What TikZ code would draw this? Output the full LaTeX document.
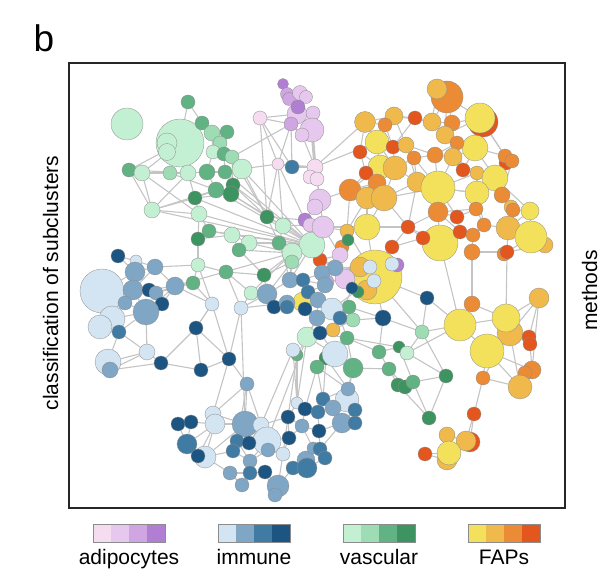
\documentclass[tikz,border=0pt]{standalone}
\usepackage{fontspec}
\setmainfont{Liberation Sans}
\usepackage{xcolor}
\usepackage{tikz}
\usetikzlibrary{backgrounds}
\definecolor{adpA}{HTML}{F5DCF1}
\definecolor{adpB}{HTML}{E6C8EE}
\definecolor{adpC}{HTML}{CFA5E2}
\definecolor{adpD}{HTML}{B07FD4}
\definecolor{immA}{HTML}{D3E4F3}
\definecolor{immB}{HTML}{7FA6C4}
\definecolor{immC}{HTML}{407BA3}
\definecolor{immD}{HTML}{1C5581}
\definecolor{vasA}{HTML}{C3F0D3}
\definecolor{vasB}{HTML}{9EDCB3}
\definecolor{vasC}{HTML}{62B383}
\definecolor{vasD}{HTML}{3D9460}
\definecolor{fapA}{HTML}{F4E15B}
\definecolor{fapB}{HTML}{F0B94B}
\definecolor{fapC}{HTML}{EB8B35}
\definecolor{fapD}{HTML}{E3561D}
\definecolor{linkgray}{HTML}{C4C4C4}
\tikzset{
  dot/.style={circle, fill=#1, draw=black!45, line width=0.3pt, inner sep=0pt},
  link/.style={draw=linkgray, line width=1.1pt},
  frame/.style={draw=black!85, line width=1.3pt},
  swatch/.style={draw=black!45, line width=0.4pt},
  lab/.style={font=\fontsize{21}{24}\selectfont, inner sep=0pt}
}

\begin{document}
\begin{tikzpicture}[x=1pt,y=-1pt]
  \useasboundingbox (0,0) rectangle (603,585);

  % FAPs
  \foreach \nm/\x/\y/\d/\c in {
    fa58/375/277/54/fapA, fa2/447/97/32/fapC, fa1/437/89/20/fapB,
    fa3/365/122/21/fapB, fa4/394/116/18/fapB, fa5/415/118/14/fapD,
    fa6/432/122/18/fapB, fa7/452/123/16/fapC, fa8/445/135/18/fapB,
    fa9/483/122/30/fapD, fa10/480/118/30/fapA, fa11/385/125/14/fapC,
    fa12/377/142/24/fapA, fa13/393/147/14/fapD, fa14/406/145/16/fapB,
    fa15/475/148/26/fapA, fa16/457/143/14/fapC, fa17/360/152/14/fapD,
    fa18/414/158/14/fapC, fa19/435/155/16/fapC, fa20/453/157/18/fapB,
    fa21/463/170/14/fapD, fa84/506/163/14/fapD, fa22/505/156/14/fapC,
    fa23/512/161/14/fapC, fa24/380/167/24/fapA, fa25/395/168/24/fapB,
    fa26/366/173/14/fapD, fa27/377/183/18/fapC, fa28/417/182/20/fapB,
    fa29/438/188/34/fapA, fa30/477/173/14/fapB, fa31/495/178/26/fapA,
    fa32/477/193/24/fapA, fa33/502/195/16/fapC, fa34/350/190/22/fapC,
    fa35/367/198/22/fapB, fa36/384/198/26/fapB, fa37/438/212/20/fapC,
    fa38/457/217/14/fapD, fa39/476/209/14/fapC, fa40/511/207/14/fapB,
    fa41/513/210/14/fapC, fa42/530/211/18/fapA, fa43/367/227/26/fapA,
    fa44/347/231/14/fapB, fa45/408/227/14/fapD, fa46/484/225/14/fapC,
    fa47/508/228/24/fapB, fa49/545/245/16/fapB, fa48/531/237/32/fapA,
    fa50/440/243/36/fapA, fa51/423/238/14/fapD, fa52/460/232/14/fapD,
    fa53/473/235/14/fapC, fa54/472/252/16/fapC, fa56/504/254/14/fapC,
    fa55/507/252/14/fapD, fa57/392/247/14/fapD, fa59/360/267/20/fapB,
    fa60/367/290/20/fapB, fa61/342/247/14/fapC, fa62/320/260/14/fapD,
    fa63/303/302/20/fapA, fa64/333/330/14/fapB, fa66/472/304/16/fapC,
    fa65/460/325/32/fapA, fa68/510/333/26/fapB, fa67/506/318/28/fapA,
    fa69/487/351/34/fapA, fa70/539/298/20/fapB, fa71/529/337/14/fapD,
    fa72/530/344/14/fapD, fa73/532/370/18/fapC, fa74/525/373/14/fapC,
    fa75/520/387/24/fapB, fa76/483/378/14/fapC, fa77/474/414/14/fapD,
    fa78/447/435/16/fapB, fa79/470/442/20/fapD, fa80/466/441/20/fapB,
    fa81/447/460/20/fapB, fa82/449/453/24/fapA, fa83/425/454/14/fapD}
    \node[dot=\c, minimum size=\d pt] (\nm) at (\x,\y) {};

  % vascular
  \foreach \nm/\x/\y/\d/\c in {
    va1/127/124/32/vasA, va2/180/143/48/vasA, va3/167/143/20/vasA,
    va4/167/152/17/vasA, va5/188/102/14/vasC, va6/202/123/14/vasC,
    va7/227/132/14/vasC, va8/212/133/16/vasB, va9/220/143/14/vasB,
    va10/213/152/14/vasA, va11/224/154/14/vasC, va12/232/157/14/vasB,
    va13/242/169/20/vasA, va14/129/170/14/vasC, va15/142/173/16/vasA,
    va16/170/173/14/vasB, va17/188/173/16/vasA, va18/207/172/16/vasC,
    va19/225/172/14/vasC, va20/233/185/14/vasD, va21/216/190/16/vasC,
    va22/231/194/16/vasD, va23/195/198/14/vasD, va24/152/210/16/vasA,
    va25/199/214/16/vasA, va26/267/217/14/vasD, va27/283/226/16/vasA,
    va28/209/231/14/vasC, va29/198/239/14/vasD, va30/232/235/16/vasA,
    va31/249/243/16/vasA, va32/239/250/14/vasC, va33/279/243/14/vasC,
    va34/198/265/14/vasA, va35/226/272/14/vasC, va36/264/275/14/vasD,
    va37/312/245/26/vasA, va38/292/253/20/vasA, va39/292/262/14/vasB,
    va40/348/240/12/vasD, va41/193/283/14/vasC, va42/251/293/14/vasA,
    va43/349/307/14/vasC, va44/353/320/14/vasB, va45/307/337/20/vasA,
    va46/297/355/12/vasC, va47/347/338/14/vasC, va48/326/358/14/vasD,
    va49/317/367/14/vasC, va50/353/368/20/vasC, va51/379/352/14/vasC,
    va52/399/347/12/vasD, va53/407/353/14/vasA, va54/389/369/14/vasC,
    va55/398/385/14/vasD, va56/405/387/14/vasD, va57/413/382/14/vasC,
    va58/446/376/14/vasD, va59/429/418/14/vasD, va60/422/332/14/vasB,
    va61/358/292/12/vasD}
    \node[dot=\c, minimum size=\d pt] (\nm) at (\x,\y) {};

  % adipocytes
  \foreach \nm/\x/\y/\d/\c in {
    ad1/283/84/11/adpD, ad2/287/94/13/adpC, ad3/289/99/13/adpC,
    ad4/300/93/15/adpB, ad5/306/97/13/adpB, ad7/297/114/20/adpB,
    ad6/298/107/14/adpD, ad8/313/113/14/adpB, ad9/260/118/14/adpA,
    ad10/291/124/14/adpC, ad12/312/130/24/adpB, ad11/302/135/14/adpB,
    ad13/278/164/12/adpA, ad14/315/167/16/adpA, ad15/310/177/14/adpA,
    ad16/317/179/14/adpA, ad17/320/200/22/adpB, ad18/315/207/16/adpB,
    ad19/305/220/14/adpD, ad20/310/225/14/adpB, ad21/323/227/22/adpB,
    ad22/340/255/16/adpB, ad23/345/279/20/adpB, ad24/327/282/14/adpC,
    ad25/397/265/14/adpD}
    \node[dot=\c, minimum size=\d pt] (\nm) at (\x,\y) {};

  % immune
  \foreach \nm/\x/\y/\d/\c in {
    im5/102/291/44/immA, im1/118/256/14/immD, im2/136/261/12/immA,
    im3/155/267/16/immB, im4/135/272/20/immB, im6/133/290/20/immB,
    im7/149/290/14/immD, im8/156/293/14/immB, im9/162/304/14/immD,
    im10/125/303/14/immB, im11/146/312/26/immB, im12/112/319/26/immA,
    im13/100/327/24/immA, im14/119/332/14/immC, im15/147/352/16/immA,
    im16/161/363/14/immD, im17/108/362/26/immA, im18/110/370/16/immB,
    im19/175/286/18/immB, im20/212/304/14/immA, im21/241/308/14/immA,
    im22/196/328/14/immD, im23/201/370/14/immD, im24/229/359/14/immD,
    im25/267/294/20/immB, im26/274/307/14/immD, im27/287/303/16/immB,
    im28/290/280/16/immB, im29/303/280/14/immC, im30/292/167/14/immC,
    im31/370/267/14/immA, im32/374/281/14/immA, im33/352/288/12/immD,
    im34/392/264/14/immA, im35/335/268/16/immB, im36/322/273/16/immB,
    im37/325/285/16/immB, im38/308/292/14/immC, im39/318/300/16/immB,
    im40/305/309/14/immD, im41/287/307/14/immC, im42/332/309/22/immA,
    im43/340/318/14/immC, im44/317/318/16/immB, im45/320/333/14/immD,
    im46/383/318/16/immD, im47/427/298/14/immD, im48/293/350/14/immA,
    im49/335/354/26/immA, im50/247/384/14/immB, im51/178/424/14/immD,
    im52/191/422/14/immD, im53/213/414/16/immA, im54/215/424/20/immA,
    im55/245/424/26/immB, im56/261/425/16/immA, im57/267/441/28/immA,
    im58/268/450/14/immB, im59/187/444/20/immC, im60/205/457/22/immA,
    im61/198/456/14/immD, im62/237/441/14/immC, im63/249/443/14/immD,
    im64/233/451/14/immC, im65/283/454/14/immA, im66/250/461/14/immB,
    im67/230/473/14/immB, im68/250/473/14/immC, im69/265/472/14/immD,
    im70/242/485/14/immB, im71/278/486/22/immB, im72/275/495/14/immB,
    im73/288/417/14/immD, im74/297/403/12/immA, im75/305/409/14/immD,
    im76/318/412/14/immC, im77/319/431/14/immD, im78/302/426/14/immB,
    im79/289/438/14/immD, im80/306/460/18/immB, im81/293/468/14/immC,
    im82/307/468/20/immC, im83/313/448/12/immB, im84/320/449/14/immC,
    im85/325/458/14/immC, im86/347/400/24/immA, im87/355/410/14/immC,
    im88/348/389/14/immB, im89/342/423/20/immB, im90/355/423/14/immC,
    im91/323/399/14/immC, im92/333/408/16/immB}
    \node[dot=\c, minimum size=\d pt] (\nm) at (\x,\y) {};

  \begin{scope}[on background layer]
    \foreach \a/\b in {
      va5/va6, va5/va2, va6/va8, va6/va2, va7/va8, va7/va9, va8/va9, va8/va10,
      va9/va11, va10/va11, va11/va12, va12/va13, va13/va19, va2/va14, va2/va15,
      va2/va16, va2/va17, va14/va15, va15/va16, va14/va24, va15/va24, va16/va17,
      va17/va18, va18/va19, va19/va20, va18/va21, va21/va22, va20/va22, va17/va23,
      va21/va23, va22/va23, va24/va23, va24/va25, va24/va21, va24/va17, va23/va25,
      va25/va28, va25/va29, va28/va30, va29/va30, va28/va29, va30/va31, va31/va32,
      va30/va32, va26/va33, va26/va27, va27/va33, va22/va26, va20/va26, va13/va26,
      va29/va34, va34/va35, va35/va36, va32/va36, va31/va33, va33/va38, va36/va38,
      va12/va20, va16/va21, va15/va25, va14/va17, va13/va22, va7/va11, va10/va18,
      va11/va19, va24/va37, va25/va37, va30/va37, va31/va37, va32/va38, va28/va37,
      va21/va37, va23/va37, va34/im20, va35/im21, va41/va34, va41/im19, va41/im20,
      va13/va37, va19/va37, va20/va37, va22/va27, va12/va26, va31/va38, va36/va39,
      va35/va42, va42/va38, va42/im25, va42/im21, va36/im25, va37/ad19, va37/ad20,
      va37/ad21, va27/ad20, va27/va37, va26/ad19, im28/va33, va39/im25, va38/va39,
      ad1/ad2, ad2/ad3, ad3/ad4, ad4/ad5, ad4/ad6, ad6/ad7, ad7/ad8, ad7/ad10,
      ad10/ad11, ad11/ad12, ad8/ad12, ad9/ad7, ad9/ad10, ad9/ad13, ad9/im30,
      ad10/ad13, ad10/im30, ad11/ad14, ad13/im30, im30/ad14, ad13/ad14, ad14/ad15,
      ad15/ad16, ad16/ad17, ad14/ad17, ad17/ad18, ad18/ad19, ad19/ad20, ad20/ad21,
      ad17/ad21, ad13/ad19, ad13/va26, ad9/va26, ad14/fa3, ad14/fa12, ad21/ad22,
      ad22/ad23, ad21/fa44, ad17/fa34, ad13/va27, ad13/va13, ad10/va12,
      im1/im2, im1/im4, im2/im3, im2/im4, im3/im4, im3/im6, im4/im5, im4/im6,
      im5/im6, im5/im10, im5/im12, im6/im7, im7/im8, im6/im10, im8/im9, im6/im11,
      im9/im11, im10/im11, im11/im12, im12/im13, im12/im14, im13/im14, im14/im11,
      im11/im15, im14/im15, im15/im16, im15/im17, im17/im18, im14/im17, im16/im18,
      im15/im18, im8/im19, im9/im19, im11/im19, im16/im23, im22/im20, im22/im23,
      im22/im24, im20/im24, im21/im24, im23/im24, im21/im25, im20/im22, im16/im22,
      im7/im19, im3/im19, im19/va38, im21/im27, im3/va34, im8/va41, im19/im20,
      va37/va38, va37/im28, va38/im28, va39/im28, im28/im29, im29/im36, im36/im35,
      im35/ad22, im35/im31, ad22/fa61, fa61/fa44, fa44/fa43, ad21/fa43, ad23/im35,
      ad23/ad24, ad24/im37, im37/im36, im37/im38, im38/im39, im39/fa63, fa63/im40,
      im40/im41, im41/im27, im27/im26, im26/im25, im25/im28, im39/im42, im42/im43,
      im43/va43, va43/va44, va44/fa64, fa64/im45, im45/im44, im44/im39, im44/va45,
      va45/im45, im42/im44, im43/im33, im33/va61, va61/fa60, fa60/im32, im32/im31,
      im31/fa59, fa59/ad23, im34/ad25, fa58/fa57, fa58/ad25, fa57/fa51, fa50/fa51,
      fa58/im46, im46/va44, im47/fa58, im47/va60, va60/fa65, fa58/va60, im46/va51,
      fa43/fa58, fa44/fa58, fa62/fa58, fa62/im35, fa62/ad22, fa58/im42,
      im29/im37, im36/va37, ad24/im36, ad23/im31, fa59/im35, fa63/im38, fa63/im44,
      im41/fa63, va45/im44, va44/im42, va43/im46, im45/va47, im49/im45,
      va45/va46, va46/im48, va45/im49, im49/va48, va48/va49, im49/va50, va50/va47,
      va47/im43, va47/va51, va51/va52, va52/va53, va53/va60, va51/va54, va54/va55,
      va55/va56, va56/va57, va57/va58, va58/va60, va55/va59, va57/va59, va54/va56,
      va52/va57, va53/va58, va50/va54, va47/va52, va58/va59, va60/im46, va53/fa65,
      im50/im53, im50/im55, im50/im56, im51/im52, im52/im54, im51/im59, im52/im59,
      im53/im54, im54/im55, im55/im56, im56/im57, im57/im58, im55/im62, im62/im63,
      im63/im57, im62/im64, im64/im66, im66/im58, im59/im61, im61/im60, im60/im64,
      im60/im67, im67/im68, im68/im69, im69/im71, im71/im72, im70/im67, im70/im68,
      im65/im58, im65/im71, im54/im59, im54/im60, im55/im60, im56/im65, im57/im65,
      im72/im69, im66/im68, im61/im54, im57/im79, im65/im79, im73/im74, im74/im75,
      im75/im76, im76/im91, im91/im92, im92/im86, im86/im88, im86/im87, im87/im90,
      im89/im90, im89/im92, im77/im78, im78/im79, im77/im84, im84/im83, im83/im80,
      im80/im81, im80/im82, im82/im85, im84/im85, im77/im89, im76/im77, im73/im79,
      im73/im56, im73/im65, im78/im75, im81/im71, im82/im81, im50/im24, im74/im48,
      im74/va46, im75/va49, im86/va50, im88/va49, im91/va48, im73/va46, im56/im48,
      im57/va45, im53/im24, im55/im21, im50/im62, im53/im55, im55/im57, im56/im63,
      im59/im60, im57/im66, im62/im66, im80/im84, im78/im83, im87/im89, im76/im92,
      im91/im88, im73/im78, im89/im84, va45/im74, va49/im91, va48/im88, va50/im88,
      fa1/fa2, fa2/fa6, fa2/fa7, fa2/fa10, fa1/fa6, fa3/fa11, fa3/fa4, fa4/fa5,
      fa5/fa6, fa6/fa7, fa7/fa8, fa8/fa10, fa8/fa16, fa6/fa8, fa11/fa12, fa12/fa13,
      fa13/fa14, fa14/fa18, fa18/fa19, fa19/fa20, fa20/fa16, fa16/fa15, fa15/fa10,
      fa15/fa21, fa21/fa20, fa15/fa22, fa22/fa23, fa23/fa84, fa12/fa17, fa17/fa24,
      fa24/fa25, fa25/fa18, fa24/fa26, fa26/fa27, fa27/fa34, fa34/fa35, fa35/fa36,
      fa36/fa27, fa36/fa28, fa28/fa29, fa29/fa19, fa29/fa20, fa29/fa37, fa37/fa38,
      fa38/fa39, fa39/fa32, fa32/fa31, fa31/fa30, fa30/fa21, fa31/fa33, fa33/fa41,
      fa40/fa41, fa41/fa42, fa42/fa47, fa47/fa48, fa48/fa49, fa47/fa46, fa46/fa39,
      fa46/fa53, fa53/fa52, fa52/fa50, fa50/fa37, fa51/fa45, fa45/fa28, fa54/fa53,
      fa54/fa55, fa55/fa47, fa56/fa55, fa36/fa43, fa43/fa35, fa43/fa45, fa28/fa14,
      fa25/fa28, fa12/fa24, fa4/fa14, fa22/fa31, fa23/fa33, fa30/fa32, fa16/fa21,
      fa9/fa22, fa10/fa22, fa32/fa29, fa38/fa52, fa49/fa55, fa11/fa4, fa5/fa13,
      fa3/fa17, fa35/fa44, fa57/fa45, fa24/fa34, fa29/fa36, fa37/fa45,
      fa3/fa12, fa4/fa6, fa11/fa13, fa12/fa14, fa12/fa25, fa13/fa25, fa14/fa19,
      fa18/fa28, fa18/fa29, fa19/fa16, fa20/fa15, fa20/fa30, fa21/fa31, fa29/fa30,
      fa29/fa32, fa29/fa38, fa28/fa37, fa37/fa52, fa37/fa39, fa32/fa46, fa33/fa40,
      fa31/fa42, fa42/fa48, fa41/fa47, fa48/fa55, fa24/fa27, fa24/fa36, fa25/fa36,
      fa26/fa34, fa35/fa27, fa45/fa50, fa36/fa45, fa17/fa26, fa34/fa44, fa44/fa61,
      fa22/fa33, fa15/fa31, fa10/fa15, fa2/fa8, fa7/fa10,
      fa50/fa65, fa54/fa66, fa65/fa66, fa66/fa67, fa65/fa67, fa67/fa68, fa65/fa69,
      fa69/fa68, fa67/fa70, fa70/fa71, fa71/fa72, fa70/fa68, fa68/fa72, fa69/fa73,
      fa73/fa74, fa74/fa75, fa75/fa76, fa76/fa69, fa76/fa68, fa72/fa73, fa67/fa72,
      fa65/im47, fa76/fa77, fa77/fa79, fa77/fa80, fa78/fa80, fa78/fa82, fa80/fa82,
      fa82/fa83, fa83/fa81, fa81/fa80, fa70/fa73, fa55/fa67, fa68/fa75, fa69/fa75}
      \draw[link] (\a) -- (\b);
    \draw[link, line width=3pt] (ad12) -- (ad14);
  \end{scope}

  \draw[frame] (69,63) rectangle (565,508);

  \node[font=\fontsize{37}{40}\selectfont, inner sep=0pt, anchor=base west] (panel) at (33.5,52) {b};
  \node[lab, rotate=90, anchor=base] (ylab) at (58,283) {classification of subclusters};
  \node[lab, rotate=90, anchor=base east] (ylab2) at (597,250) {methods};

  \foreach \k/\xa/\lbl in {adp/93/adipocytes, imm/218/immune, vas/343/vascular, fap/468/FAPs} {
    \foreach \s [count=\i from 0] in {A,B,C,D}
      \fill[\k\s] (\xa+18*\i,524) rectangle (\xa+18*\i+18,542);
    \draw[swatch] (\xa,524) rectangle (\xa+72,542);
    \node[lab, anchor=base] (key\k) at (\xa+36,564) {\lbl};
  }
\end{tikzpicture}
\end{document}
